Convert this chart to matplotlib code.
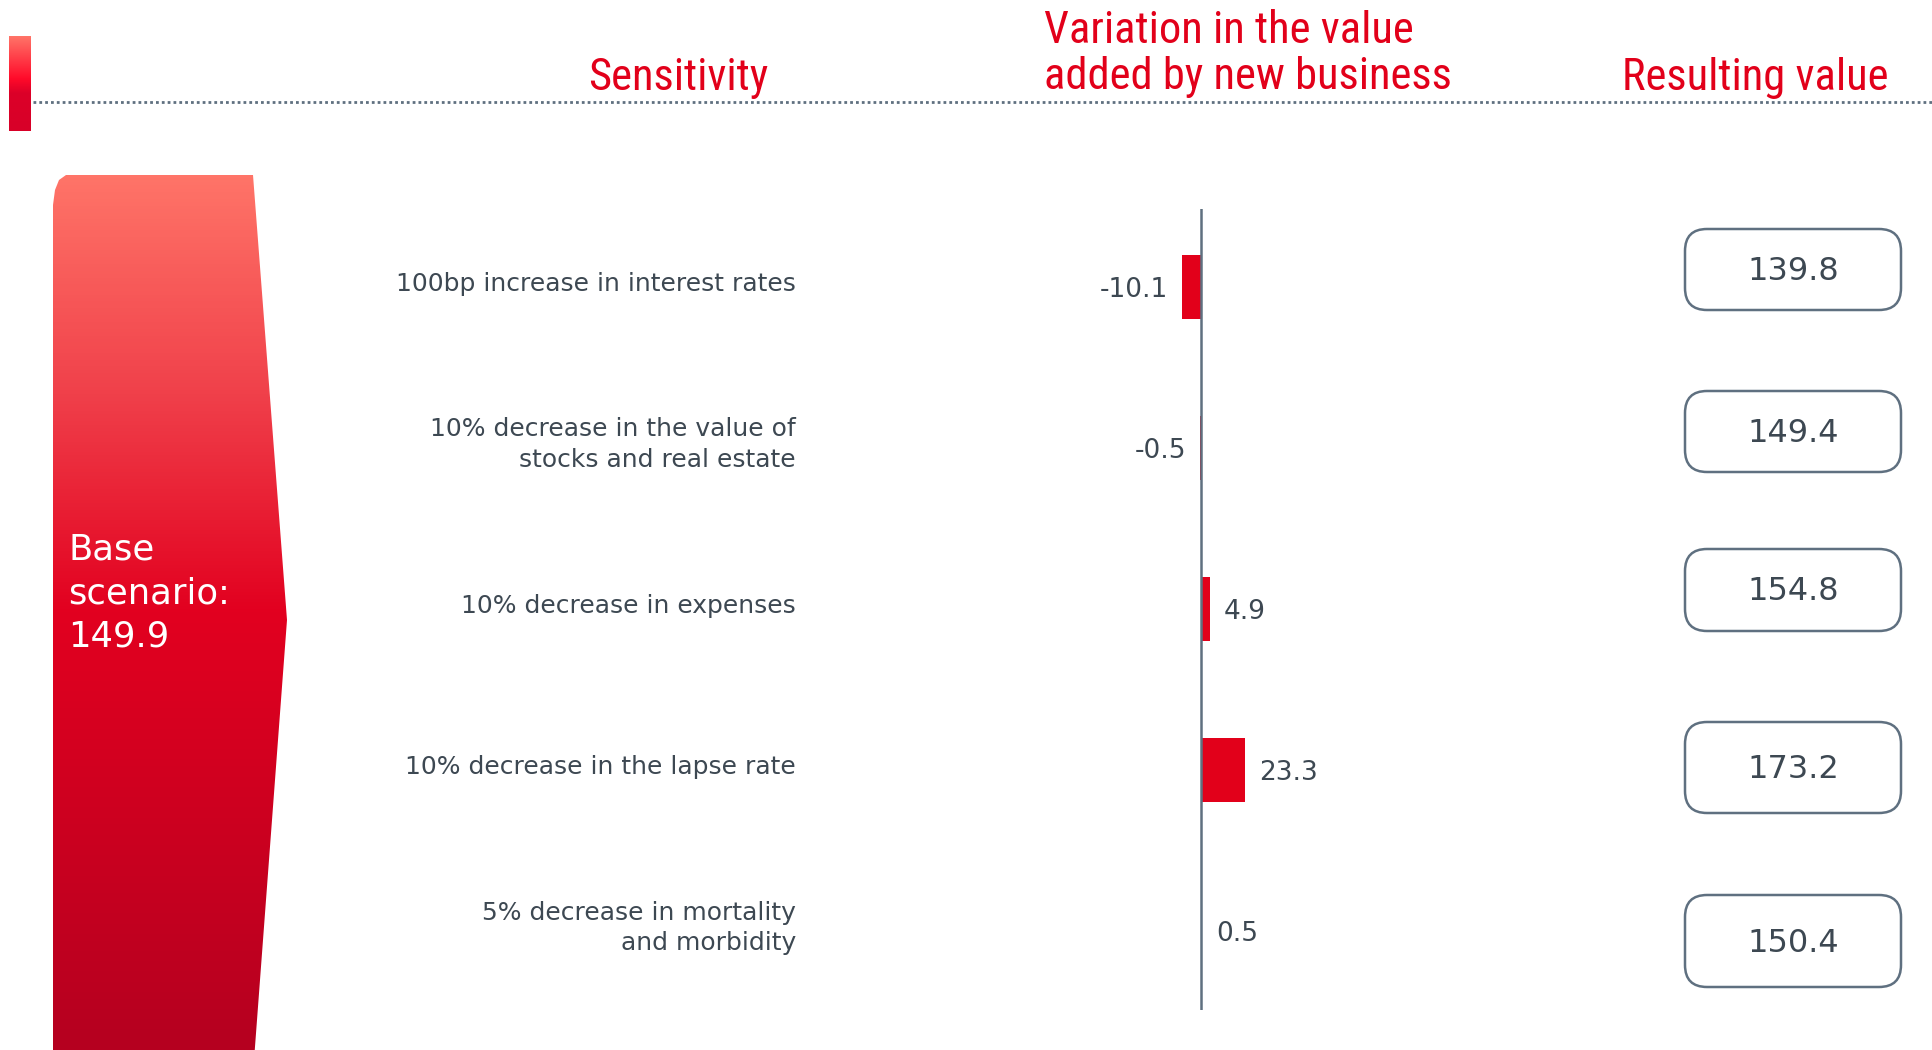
import numpy as np
import matplotlib
matplotlib.use("Agg")
import matplotlib.pyplot as plt
from matplotlib import font_manager as fm
from matplotlib.patches import FancyBboxPatch, Polygon
from matplotlib.colors import LinearSegmentedColormap
from matplotlib import transforms

# --- data ---
sensitivities = ["100bp increase in interest rates",
                 "10% decrease in the value of\nstocks and real estate",
                 "10% decrease in expenses",
                 "10% decrease in the lapse rate",
                 "5% decrease in mortality\nand morbidity"]
variation = [-10.1, -0.5, 4.9, 23.3, 0.5]
resulting = [139.8, 149.4, 154.8, 173.2, 150.4]
base_value = 149.9

RED = "#e2001a"
TXT = "#3d4852"
LINE = "#5f7080"

# narrowest font we can find for the red headers
names = {f.name for f in fm.fontManager.ttflist}
stretches = {(f.name, f.stretch) for f in fm.fontManager.ttflist}
head_kw = dict(family="Liberation Sans", fontsize=29)
for cand in ["Liberation Sans Narrow", "Roboto Condensed", "Open Sans Condensed",
             "DejaVu Sans Condensed", "Noto Sans Condensed"]:
    if cand in names:
        head_kw = dict(family=cand, fontsize=32)
        break
else:
    for nm, st in stretches:
        if st in ("condensed", "semi-condensed", 87.5) and nm in ("DejaVu Sans", "Noto Sans", "Roboto"):
            head_kw = dict(family=nm, fontstretch="condensed", fontsize=28.2)
            break

W, H = 1932, 1050
fig = plt.figure(figsize=(W / 100, H / 100), dpi=100)
ov = fig.add_axes([0, 0, 1, 1])
ov.set_xlim(0, W); ov.set_ylim(H, 0); ov.axis("off")

grad = LinearSegmentedColormap.from_list(
    "g", [(0, "#ff7468"), (0.25, "#f0404a"), (0.5, "#e2001f"), (1.0, "#b5001f")])
small = LinearSegmentedColormap.from_list(
    "s", [(0, "#ff7468"), (0.45, "#ff0a2a"), (0.6, "#dc0028"), (1.0, "#d80028")])

# small marker bar top-left
ov.imshow(np.linspace(0, 1, 256)[:, None], cmap=small, aspect="auto",
          extent=(9, 31, 131, 36), zorder=2)

# dotted header rule
ov.plot([33, W], [102, 102], color=LINE, lw=2.0, ls=(0, (1, 1.1)), zorder=1)

# headers
ov.text(678, 78, "Sensitivity", color=RED, ha="center", va="center", **head_kw)
ov.text(1044, 54, "Variation in the value\nadded by new business", color=RED,
        ha="left", va="center", linespacing=1.15, **head_kw)
ov.text(1889, 78, "Resulting value", color=RED, ha="right", va="center", **head_kw)

# base scenario arrow shape with vertical gradient
shape = Polygon([(66, 175), (253, 175), (287, 620), (254, 1060), (53, 1060),
                 (53, 205), (55, 190), (59, 180)], closed=True, fc="none", ec="none")
ov.add_patch(shape)
img = ov.imshow(np.linspace(0, 1, 256)[:, None], cmap=grad, aspect="auto",
                extent=(50, 290, 1050, 175), zorder=2)
img.set_clip_path(shape)
ov.text(68, 593, f"Base\nscenario:\n{base_value}", color="white", fontsize=25.5,
        ha="left", va="center", linespacing=1.36, zorder=3)

# bar axes
bx = fig.add_axes([1000 / W, 1 - 1010 / H, 400 / W, (1010 - 209) / H])
bx.set_xlim(-106, 105)
bx.set_ylim(4.49, -0.484)
bx.axis("off")
ypos = np.arange(len(variation))
bx.barh(ypos, variation, height=0.4, color=RED, zorder=2)
bx.axvline(0, color=LINE, lw=1.8, zorder=3)
for y, v in zip(ypos, variation):
    off = 10 if v > 0 else -10
    bx.annotate(f"{v}", (v, y), xytext=(off, -2), textcoords="offset points",
                ha="left" if v > 0 else "right", va="center", color=TXT,
                fontsize=19)

# category labels
tr = transforms.blended_transform_factory(ov.transData, bx.transData)
for y, lab in zip(ypos, sensitivities):
    ov.text(796, y - 0.02, lab, transform=tr, ha="right", va="center", color=TXT,
            fontsize=18, linespacing=1.35, multialignment="right")

# resulting value boxes
box_top = [229, 391, 549, 722, 895]
box_h = [81, 81, 82, 91, 92]
for t, h, val in zip(box_top, box_h, resulting):
    ov.add_patch(FancyBboxPatch((1685, t), 216, h,
                                boxstyle="round,pad=0,rounding_size=22",
                                fc="white", ec=LINE, lw=1.8))
    ov.text(1793, t + h / 2 + 2, f"{val}", ha="center", va="center", color=TXT,
            fontsize=23)

fig.savefig("out.png", dpi=100)
